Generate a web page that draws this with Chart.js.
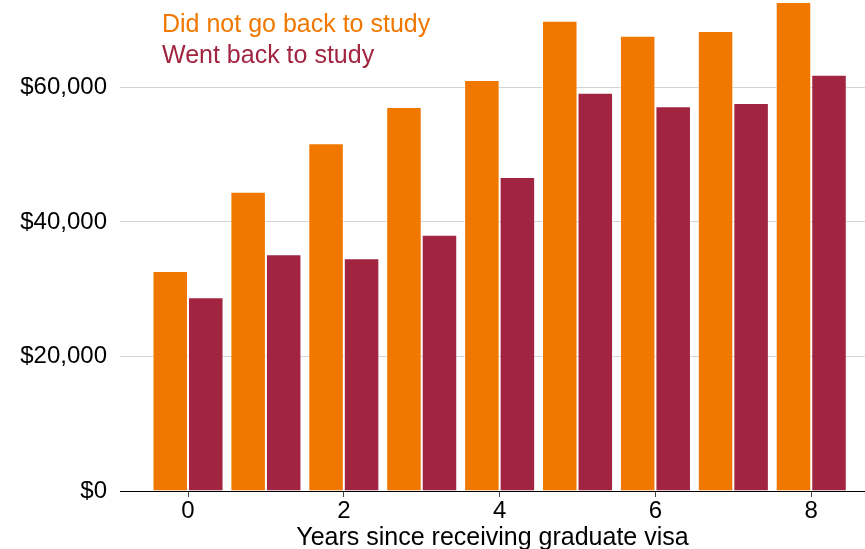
<!DOCTYPE html>
<html>
<head>
<meta charset="utf-8">
<script src="https://cdn.jsdelivr.net/npm/chart.js@4.4.1/dist/chart.umd.min.js"></script>
<style>
  html, body { margin: 0; padding: 0; width: 865px; height: 549px; overflow: hidden; background: #fff; }
  #wrap { width: 865px; height: 560px; position: relative; }
</style>
</head>
<body>
<div id="wrap"><canvas id="c"></canvas></div>
<script>
// Years since receiving a graduate visa
const years = [0, 1, 2, 3, 4, 5, 6, 7, 8];
// Median income, graduates who did not go back to study
const notStudy = [32700, 44500, 51700, 57100, 61100, 69900, 67700, 68400, 72700];
// Median income, graduates who went back to study
const wentStudy = [28800, 35200, 34600, 38100, 46700, 59200, 57200, 57700, 61900];
const seriesNames = ['Did not go back to study', 'Went back to study'];
const yTicks = [0, 20000, 40000, 60000];
const xTicks = [0, 2, 4, 6, 8];

const ORANGE = '#F07800';
const RED = '#A12440';
const FONT = "'Liberation Sans', Arial, sans-serif";

const toPoints = (vals) => years.map((x, i) => ({ x, y: vals[i] }));

// Coloured series names drawn inside the plot, top left
const textLegend = {
  id: 'textLegend',
  afterDraw(chart) {
    const ctx = chart.ctx;
    ctx.save();
    ctx.font = '25px ' + FONT;
    ctx.textAlign = 'left';
    ctx.textBaseline = 'middle';
    ctx.fillStyle = ORANGE;
    ctx.fillText(seriesNames[0], 162, 25);
    ctx.fillStyle = RED;
    ctx.fillText(seriesNames[1], 162, 56);
    ctx.restore();
  }
};

new Chart(document.getElementById('c'), {
  type: 'bar',
  data: {
    datasets: [
      { label: seriesNames[0], data: toPoints(notStudy), backgroundColor: ORANGE,
        borderColor: 'rgba(255,255,255,0.55)', borderWidth: 1,
        categoryPercentage: 0.912, barPercentage: 1.0 },
      { label: seriesNames[1], data: toPoints(wentStudy), backgroundColor: RED,
        borderColor: 'rgba(255,255,255,0.55)', borderWidth: 1,
        categoryPercentage: 0.912, barPercentage: 1.0 }
    ]
  },
  options: {
    responsive: true,
    maintainAspectRatio: false,
    animation: false,
    layout: { padding: 0 },
    plugins: { legend: { display: false }, tooltip: { enabled: false } },
    scales: {
      x: {
        type: 'linear',
        min: -0.873,
        max: 8.69,
        offset: false,
        afterBuildTicks: (s) => { s.ticks = xTicks.map(v => ({ value: v })); },
        afterFit: (s) => { s.height = 69; s.paddingLeft = 0; s.paddingRight = 0; },
        grid: { offset: false, drawOnChartArea: false, drawTicks: true, tickLength: 6, tickColor: '#444', tickWidth: 1 },
        border: { display: true, color: '#000', width: 1 },
        ticks: { color: '#000', font: { family: FONT, size: 24 }, padding: 0, maxRotation: 0,
                 callback: (v) => String(v) },
        title: { display: true, text: 'Years since receiving graduate visa', color: '#000',
                 font: { family: FONT, size: 25 }, padding: { top: 0, bottom: 7 } }
      },
      y: {
        min: 0,
        max: 73000,
        afterBuildTicks: (s) => { s.ticks = yTicks.map(v => ({ value: v })); },
        afterFit: (s) => { s.width = 120; s.paddingTop = 0; s.paddingBottom = 0; },
        grid: { color: '#d4d4d4', drawTicks: false },
        border: { display: false },
        ticks: { color: '#000', font: { family: FONT, size: 24 }, padding: 13,
                 callback: (v) => '$' + Number(v).toLocaleString('en-US') }
      }
    }
  },
  plugins: [textLegend]
});
</script>
</body>
</html>
